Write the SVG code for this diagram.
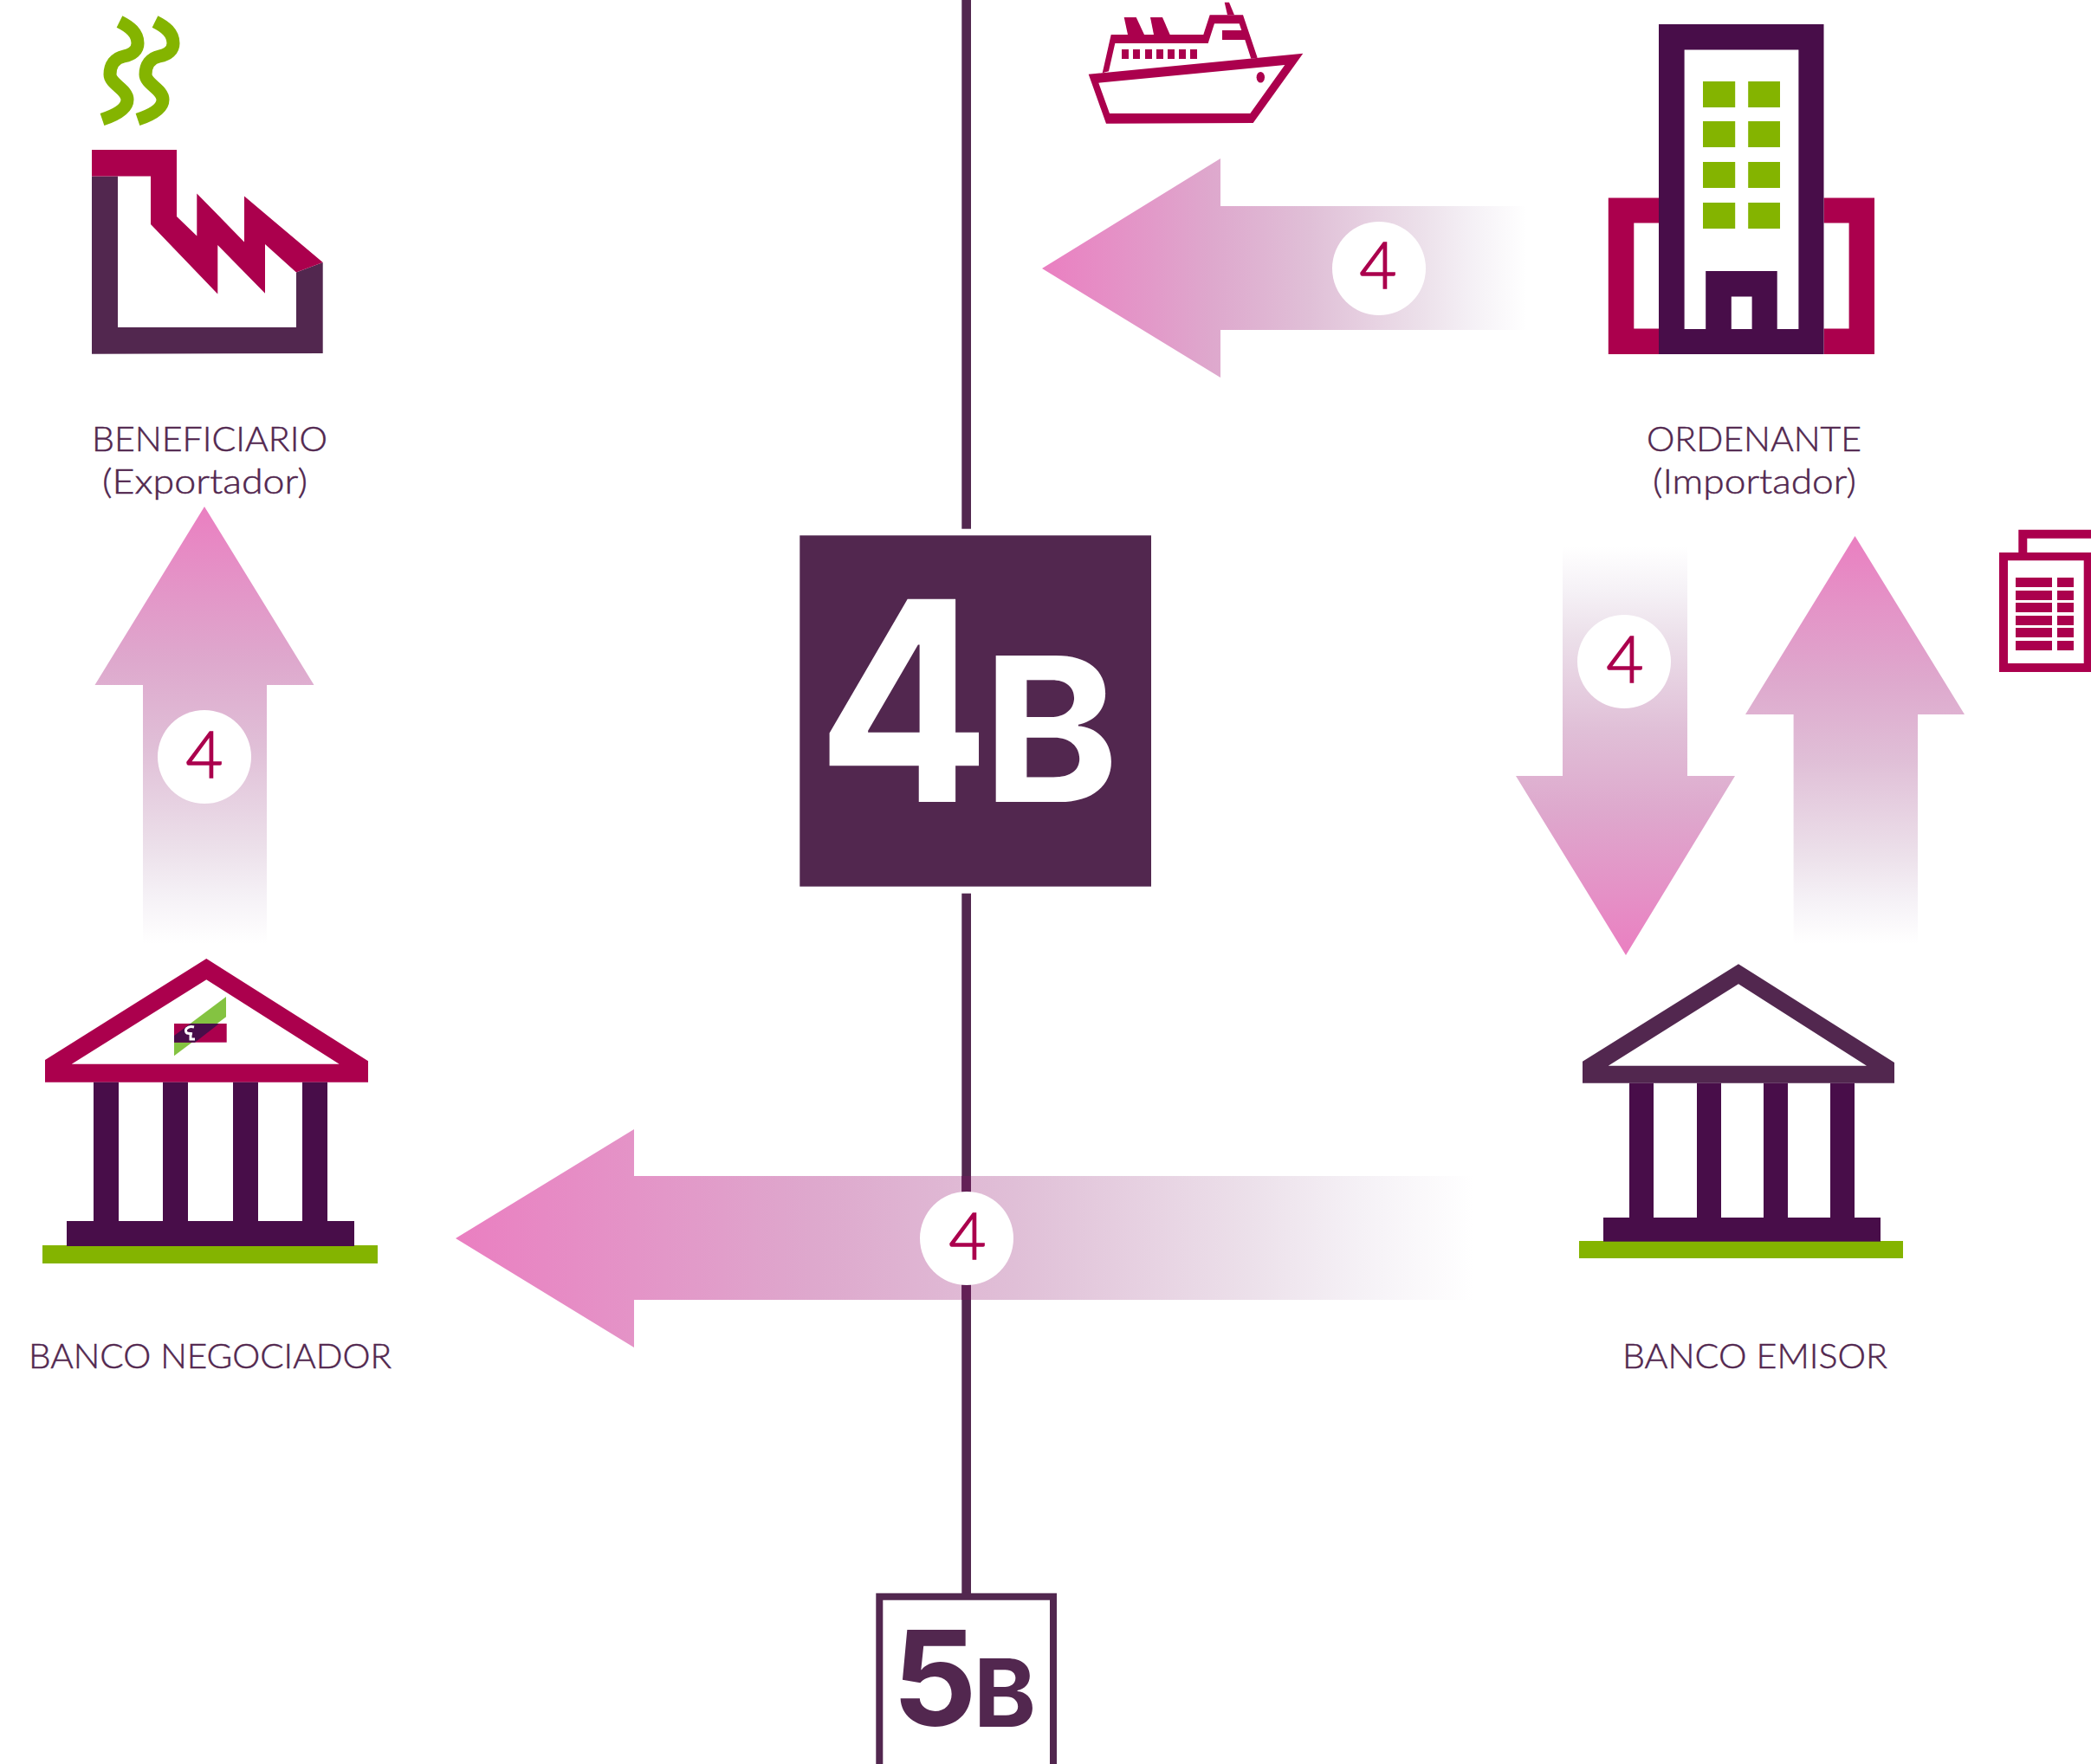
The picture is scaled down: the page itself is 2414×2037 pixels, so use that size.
<svg xmlns="http://www.w3.org/2000/svg" width="2414" height="2037" viewBox="0 0 2414 2037">
<style>
.p{fill:#52274f}.d{fill:#480d49}.c{fill:#ab004d}.g{fill:#84b400}
.l{font-family:"Lato","Noto Sans",sans-serif;font-weight:300;font-size:40px;fill:#52274f;stroke:#52274f;stroke-width:.5px}
.n{font-family:"Lato","Noto Sans",sans-serif;font-weight:300;font-size:74px;fill:#ab004d;stroke:#ab004d;stroke-width:1.6px;text-anchor:middle}
.w{fill:#fff}
.big{font-family:"Inter","Liberation Sans",sans-serif;font-weight:700}
.smoke{fill:none;stroke:#84b400;stroke-width:15}
</style>
<defs>
<linearGradient id="gl" x1="0" x2="1" y1="0" y2="0"><stop offset="0" stop-color="#ea7fc1"/><stop offset="0.35" stop-color="#dea8cd"/><stop offset="0.55" stop-color="#e0bfd7"/><stop offset="0.78" stop-color="#ece0ea"/><stop offset="0.89" stop-color="#f5f1f6"/><stop offset="1" stop-color="#fff"/></linearGradient>
<linearGradient id="gu" x1="0" x2="0" y1="0" y2="1"><stop offset="0" stop-color="#ea7fc1"/><stop offset="0.35" stop-color="#dea8cd"/><stop offset="0.55" stop-color="#e0bfd7"/><stop offset="0.78" stop-color="#ece0ea"/><stop offset="0.89" stop-color="#f5f1f6"/><stop offset="1" stop-color="#fff"/></linearGradient>
<linearGradient id="gd" x1="0" x2="0" y1="1" y2="0"><stop offset="0" stop-color="#ea7fc1"/><stop offset="0.35" stop-color="#dea8cd"/><stop offset="0.55" stop-color="#e0bfd7"/><stop offset="0.78" stop-color="#ece0ea"/><stop offset="0.89" stop-color="#f5f1f6"/><stop offset="1" stop-color="#fff"/></linearGradient>
</defs>
<rect width="2414" height="2037" fill="#fff"/>
<g id="connectors">
<polygon fill="url(#gl)" points="1203,310 1409,183 1409,238 1763,238 1763,381 1409,381 1409,436"/>
<polygon fill="url(#gl)" points="526,1430 732,1304 732,1358 1701,1358 1701,1501 732,1501 732,1556"/>
<polygon fill="url(#gu)" points="236,585 362.500,791 308,791 308,1090 165,1090 165,791 109.500,791"/>
<polygon fill="url(#gu)" points="2141.500,619 2268,825 2214,825 2214,1090 2070.600,1090 2070.600,825 2015,825"/>
<polygon fill="url(#gd)" points="1877,1103 2003,896 1948,896 1948,631 1804,631 1804,896 1750,896"/>
<rect class="p" x="1110.300" y="0" width="10.700" height="610.700"/>
<rect class="p" x="1110.300" y="1031.700" width="10.700" height="810"/>
<rect fill="#632056" x="1110.300" y="1358" width="10.700" height="143"/>
</g>
<g id="n4a"><circle class="w" cx="1592" cy="310" r="54"/><text class="n" x="1591" y="333">4</text></g>
<g id="n4b"><circle class="w" cx="1116" cy="1430" r="54"/><text class="n" x="1117" y="1453.500">4</text></g>
<g id="n4c"><circle class="w" cx="236" cy="874" r="54"/><text class="n" x="236" y="897.500">4</text></g>
<g id="n4d"><circle class="w" cx="1875" cy="764" r="54"/><text class="n" x="1876" y="787.500">4</text></g>
<g id="beneficiario">
<path class="smoke" d="M138,25C150,31 159,38 159,50C159,58 153,63 143,65C133,67 127,75 127,86C127,97 147,103 147,115C147,127 130,134 118,138"/>
<path class="smoke" transform="translate(41 0)" d="M138,25C150,31 159,38 159,50C159,58 153,63 143,65C133,67 127,75 127,86C127,97 147,103 147,115C147,127 130,134 118,138"/>
<polygon class="p" points="106,203.600 136,203.600 136,378 342,378 342,314.600 372.700,303 372.700,408 106,408.700"/>
<polygon class="c" points="106,173 204,173 204,250 227.300,272.500 227.300,223.500 282,279.400 282,226.600 372.700,303 342,314.600 306,282 306,338.700 251.300,283 251.300,339.500 174,259 174,203.600 106,203.600"/>
<text class="l" x="106" y="521" textLength="272" lengthAdjust="spacingAndGlyphs">BENEFICIARIO</text>
<text class="l" x="118" y="570" textLength="237" lengthAdjust="spacingAndGlyphs">(Exportador)</text>
</g>
<g id="ship" class="c">
<path fill-rule="evenodd" d="M1256.700,85.700L1504.300,61.700L1446.700,142L1277,142.700ZM1268.300,95.700L1483.300,75L1443.300,131L1281,131Z"/>
<path d="M1272.700,84.300L1282.700,40L1389.300,40L1396.700,17.300L1435,17.300L1451.700,66.700L1444.300,67.700L1437.300,46L1411,46L1411,35L1433.300,35L1430.700,27.300L1402,27.300L1394.700,50L1287.300,50L1280,82.300Z"/>
<polygon points="1297.700,20 1311.700,20 1321,40 1302,40"/>
<polygon points="1328,20 1342,20 1350.700,40 1332,40"/>
<polygon points="1413.700,2.700 1419,2.700 1425,17.300 1417,17.300"/>
<rect x="1295" y="57" width="8" height="11"/><rect x="1308" y="57" width="8" height="11"/><rect x="1322" y="57" width="8" height="11"/><rect x="1335" y="57" width="8" height="11"/><rect x="1348" y="57" width="8" height="11"/><rect x="1361" y="57" width="8" height="11"/><rect x="1374" y="57" width="8" height="11"/>
<ellipse cx="1455.300" cy="89.300" rx="4.700" ry="6.300"/>
</g>
<g id="ordenante">
<path class="c" fill-rule="evenodd" d="M1856.800,228.500H2164V409H1856.800ZM1886.300,257.600V379.600H2134.600V257.600Z"/>
<rect class="w" x="1915" y="28" width="190.500" height="381"/>
<path class="d" fill-rule="evenodd" d="M1915,28H2105.500V409H1915ZM1944.600,57.400V380H1969.200V313H2051.700V380H2076.400V57.400ZM1998.800,342.500V380H2022.600V342.500Z"/>
<g class="g">
<rect x="1966" y="94" width="37.200" height="30"/><rect x="2018.200" y="94" width="36.800" height="30"/>
<rect x="1966" y="140" width="37.200" height="30"/><rect x="2018.200" y="140" width="36.800" height="30"/>
<rect x="1966" y="187" width="37.200" height="30"/><rect x="2018.200" y="187" width="36.800" height="30"/>
<rect x="1966" y="234" width="37.200" height="30"/><rect x="2018.200" y="234" width="36.800" height="30"/>
</g>
<text class="l" x="1901" y="521" textLength="248" lengthAdjust="spacingAndGlyphs">ORDENANTE</text>
<text class="l" x="1908" y="570" textLength="235" lengthAdjust="spacingAndGlyphs">(Importador)</text>
</g>
<g id="documento" class="c">
<path fill-rule="evenodd" d="M2308,638H2414V776H2308ZM2318,647.300V766H2405.700V647.300Z"/>
<path d="M2330.300,638V611.700H2414V621.700H2340.300V638Z"/>
<rect x="2327" y="667" width="42" height="11"/><rect x="2375" y="667" width="19" height="11"/>
<rect x="2327" y="682" width="42" height="11"/><rect x="2375" y="682" width="19" height="11"/>
<rect x="2327" y="696" width="42" height="11"/><rect x="2375" y="696" width="19" height="11"/>
<rect x="2327" y="711" width="42" height="11"/><rect x="2375" y="711" width="19" height="11"/>
<rect x="2327" y="725" width="42" height="11"/><rect x="2375" y="725" width="19" height="11"/>
<rect x="2327" y="740" width="42" height="11"/><rect x="2375" y="740" width="19" height="11"/>
</g>
<g id="paso-4b">
<rect class="p" x="923.300" y="618.300" width="405.700" height="405.400"/>
<text class="big w" transform="translate(943 926) scale(.92 1)" font-size="322">4</text>
<text class="big w" transform="translate(1134 926) scale(1.03 1)" font-size="232">B</text>
</g>
<g id="paso-5b">
<path fill="none" stroke="#52274f" stroke-width="8" d="M1015.300,2037V1843.700H1216V2037"/>
<text class="big p" x="1030" y="1993" font-size="153">5</text>
<text class="big p" x="1124" y="1994" font-size="109">B</text>
</g>
<g id="banco-negociador">
<path class="c" fill-rule="evenodd" d="M238.300,1107L425,1225.300V1249.700H52V1224ZM238.300,1131.300L82.700,1228.700H391.700Z"/>
<rect class="d" x="108" y="1249.700" width="29" height="161"/><rect class="d" x="188" y="1249.700" width="29" height="161"/><rect class="d" x="269" y="1249.700" width="29" height="161"/><rect class="d" x="349" y="1249.700" width="29" height="161"/>
<rect class="g" x="49" y="1438" width="387" height="21"/>
<rect class="d" x="77" y="1410" width="332" height="29"/>
<polygon fill="#84c341" points="261,1151 261,1174.300 201,1219.300 201,1196"/>
<rect class="c" x="201" y="1182" width="60.700" height="21.700"/>
<polygon class="d" points="219.700,1182 253,1182 225,1203.700 201,1203.700 201,1196"/>
<path fill="none" stroke="#fff" stroke-width="3" d="M224,1186C216,1184 212,1190 216,1193L222,1194M220,1192V1200H225"/>
<text class="l" x="33" y="1580" textLength="419" lengthAdjust="spacingAndGlyphs">BANCO NEGOCIADOR</text>
</g>
<g id="banco-emisor">
<path class="p" fill-rule="evenodd" d="M2007,1113.300L2187,1227V1250.700H1827V1225.700ZM2007,1136.300L1856.700,1230.700H2155Z"/>
<rect class="d" x="1881" y="1250.700" width="28" height="156"/><rect class="d" x="1959" y="1250.700" width="28" height="156"/><rect class="d" x="2036" y="1250.700" width="28" height="156"/><rect class="d" x="2113" y="1250.700" width="28" height="156"/>
<rect class="g" x="1823" y="1433" width="374" height="20"/>
<rect class="d" x="1851" y="1406" width="320" height="27.700"/>
<text class="l" x="1873" y="1580" textLength="306" lengthAdjust="spacingAndGlyphs">BANCO EMISOR</text>
</g>
</svg>
